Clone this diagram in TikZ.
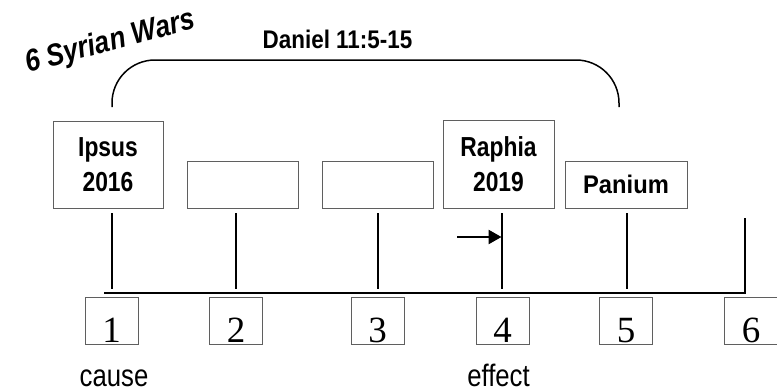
\documentclass[tikz,border=0pt]{standalone}
\usepackage{fontspec}
\setmainfont{Liberation Sans}
\newfontfamily\serifnum{Liberation Serif}
\usepackage{graphicx}
\usetikzlibrary{arrows.meta}
\newcommand{\sqz}[2][0.83]{\scalebox{#1}[1]{#2}}
\definecolor{boxgray}{RGB}{95,95,95}
\begin{document}
\begin{tikzpicture}[x=1pt,y=-1pt,
  evbox/.style={draw=boxgray, line width=1pt, inner sep=0pt, align=center,
    font=\fontsize{27.5pt}{35pt}\selectfont\bfseries},
  numbox/.style={draw=boxgray, line width=1pt, minimum width=53pt, inner xsep=0pt,
    inner ysep=2pt, text height=43pt, text depth=0pt,
    font=\serifnum\fontsize{37pt}{37pt}\selectfont},
  tick/.style={line width=2pt},
  lbl/.style={font=\fontsize{31pt}{31pt}\selectfont, anchor=base, inner sep=0pt, text depth=0pt},
]
\useasboundingbox (0,0) rectangle (777,391);
\clip (0,0) rectangle (777,391);

% title and bracket
\node[font=\fontsize{31pt}{34pt}\selectfont\bfseries\itshape, anchor=base, rotate=15, inner sep=0pt] (title) at (112.5,50.5) {\sqz[0.85]{6 Syrian Wars}};
\node[font=\fontsize{25.5pt}{30pt}\selectfont\bfseries, anchor=base] (dan) at (337.5,48.3) {\sqz[0.88]{Daniel 11:5-15}};
\coordinate (a1) at (112,107);
\coordinate (a2) at (619,107);
\coordinate (atop) at (365,60);
\draw[line width=1.5pt, rounded corners=43pt] (a1) |- (atop) -| (a2);

% event boxes
\node[evbox, minimum width=110pt, minimum height=87pt] (b1) at (108,164.5) {\sqz{Ipsus}\\\sqz{2016}};
\node[evbox, minimum width=111pt, minimum height=47pt] (b2) at (242.5,184.5) {};
\node[evbox, minimum width=111pt, minimum height=47pt] (b3) at (377.5,184.5) {};
\node[evbox, minimum width=111pt, minimum height=88pt] (b4) at (498.5,164) {\sqz{Raphia}\\\sqz{2019}};
\node[evbox, minimum width=122pt, minimum height=47pt, font=\fontsize{25.5pt}{30pt}\selectfont\bfseries] (b5) at (626,184.5) {\sqz[0.93]{Panium}};

% ticks
\coordinate (t1) at (112,213); \coordinate (e1) at (112,289);
\coordinate (t2) at (236,213); \coordinate (e2) at (236,289);
\coordinate (t3) at (378,213); \coordinate (e3) at (378,289);
\coordinate (t4) at (502,213); \coordinate (e4) at (502,289);
\coordinate (t5) at (627,213); \coordinate (e5) at (627,289);
\coordinate (t6) at (745,218); \coordinate (h6) at (745,293);
\coordinate (hl) at (104,293);
\foreach \i in {1,...,5} {\draw[tick] (t\i) -- (e\i);}
\draw[line width=2.5pt, line join=miter] (hl) -- (h6) -- (t6);

% arrow
\coordinate (ar) at (457,237);
\coordinate (ai) at (501.5,237);
\draw[line width=2.5pt, -{Triangle[length=13pt,width=14pt]}] (ar) -- (ai);

% number boxes
\node[numbox] (n1) at (111.5,320.5) {1};
\node[numbox] (n2) at (236,320.5) {2};
\node[numbox] (n3) at (377.5,320.5) {3};
\node[numbox] (n4) at (502.5,320.5) {4};
\node[numbox] (n5) at (626,320.5) {5};
\node[numbox, minimum width=54pt] (n6) at (751,320.5) {6};

% labels
\node[lbl] (cause) at (114,386) {\sqz{cause}};
\node[lbl] (effect) at (498.5,386) {\sqz{effect}};
\end{tikzpicture}
\end{document}
